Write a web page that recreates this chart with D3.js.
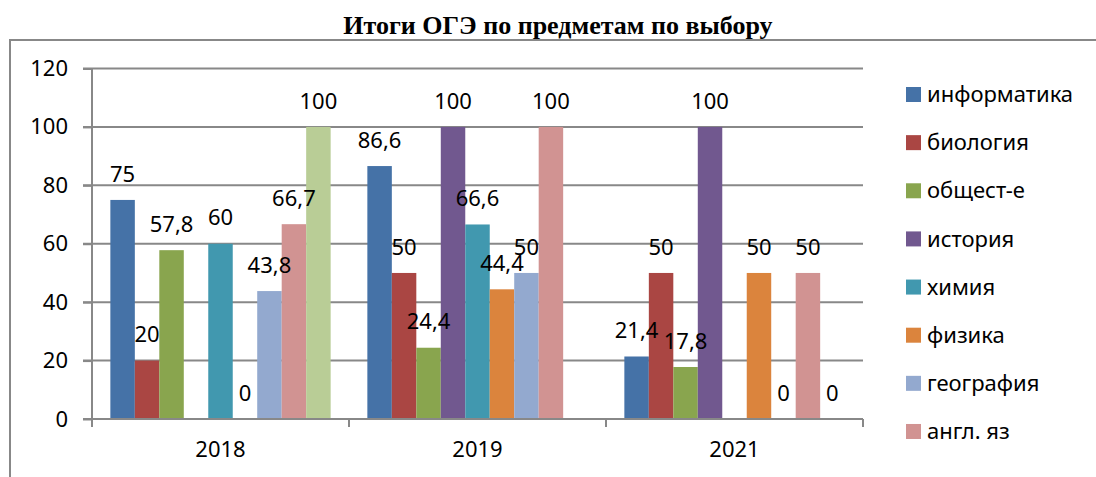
<!DOCTYPE html>
<html><head><meta charset="utf-8">
<script src="https://cdn.jsdelivr.net/npm/d3@7"></script>
<style>body{margin:0;background:#fff}svg{display:block}</style>
</head><body>
<script>
const categories = ["2018", "2019", "2021"];
const seriesNames = ["информатика", "биология", "общест-е", "история", "химия", "физика", "география", "англ. яз", ""];
const informatika = [75, 86.6, 21.4];
const biologiya = [20, 50, 50];
const obshchestvo = [57.8, 24.4, 17.8];
const istoriya = [null, 100, 100];
const khimiya = [60, 66.6, null];
const fizika = [0, 44.4, 50];
const geografiya = [43.8, 50, 0];
const anglYaz = [66.7, 100, 50];
const series9 = [100, null, 0];
const yTicks = [0, 20, 40, 60, 80, 100, 120];
const colors = ["#4572A7", "#AA4643", "#89A54E", "#71588F", "#4198AF", "#DB843D", "#93A9CF", "#D19392", "#B9CD96"];
const title = "Итоги ОГЭ по предметам по выбору";
const legendCount = 8;

const seriesValues = [informatika, biologiya, obshchestvo, istoriya, khimiya, fizika, geografiya, anglYaz, series9];

const W = 1096, H = 477;
const font = "Noto Sans, Open Sans, sans-serif";
const fs = 22;
const svg = d3.select("body").append("svg").attr("width", W).attr("height", H);

// frame
svg.append("path").attr("d", `M10,${H} L10,40 L${W},40`).attr("fill", "none").attr("stroke", "#888").attr("stroke-width", 2);

svg.append("text").attr("x", 558).attr("y", 34).attr("text-anchor", "middle")
  .attr("font-family", "Liberation Serif, Times New Roman, serif").attr("font-weight", "bold")
  .attr("font-size", 26).attr("fill", "#000").text(title);

const x0 = d3.scaleBand().domain(categories).range([92, 863]);
const x1 = d3.scaleBand().domain(d3.range(seriesNames.length)).range([0, x0.bandwidth()]).paddingInner(0).paddingOuter(0.75);
const y = d3.scaleLinear().domain([0, 120]).range([419, 68.5]);

// gridlines
svg.append("g").selectAll("line").data(yTicks.filter(d => d > 0)).join("line")
  .attr("x1", 83).attr("x2", 863).attr("y1", d => y(d)).attr("y2", d => y(d))
  .attr("stroke", "#888").attr("stroke-width", 2);

// bars
const groups = svg.append("g").selectAll("g").data(categories).join("g")
  .attr("transform", c => `translate(${x0(c)},0)`);
groups.each(function(c, ci) {
  const g = d3.select(this);
  const items = seriesValues.map((vals, si) => ({si, v: vals[ci]})).filter(d => d.v !== null);
  g.selectAll("rect").data(items).join("rect")
    .attr("x", d => x1(d.si)).attr("width", x1.bandwidth())
    .attr("y", d => y(d.v)).attr("height", d => y(0) - y(d.v))
    .attr("fill", d => colors[d.si]);
  g.selectAll("text").data(items).join("text")
    .attr("x", d => x1(d.si) + x1.bandwidth() / 2)
    .attr("y", d => y(d.v) - 26)
    .attr("dy", "0.35em")
    .attr("text-anchor", "middle").attr("font-family", font).attr("font-size", fs).attr("fill", "#000")
    .text(d => String(d.v).replace(".", ","));
});

// y axis
const yAxis = svg.append("g").attr("transform", "translate(92,0)")
  .call(d3.axisLeft(y).tickValues(yTicks).tickSize(9).tickPadding(15));
yAxis.select(".domain").attr("stroke", "#888").attr("stroke-width", 2).attr("d", `M0,${y(120)}V${y(0)}`);
yAxis.selectAll(".tick line").attr("stroke", "#888").attr("stroke-width", 2);
yAxis.selectAll(".tick text").attr("font-family", font).attr("font-size", fs).attr("fill", "#000");

// x axis
const xAxis = svg.append("g").attr("transform", `translate(0,${y(0)})`)
  .call(d3.axisBottom(x0).tickSize(0).tickPadding(22));
xAxis.select(".domain").attr("stroke", "#888").attr("stroke-width", 2).attr("d", `M83,0H863`);
xAxis.selectAll(".tick text").attr("font-family", font).attr("font-size", fs).attr("fill", "#000");
const bounds = categories.map(c => x0(c)).concat([x0(categories[categories.length - 1]) + x0.bandwidth()]);
xAxis.append("g").selectAll("line").data(bounds).join("line")
  .attr("x1", d => d).attr("x2", d => d).attr("y1", 0).attr("y2", 8)
  .attr("stroke", "#888").attr("stroke-width", 2);

// legend
const legend = svg.append("g").selectAll("g").data(seriesNames.slice(0, legendCount)).join("g")
  .attr("transform", (d, i) => `translate(906,${87 + i * 48.14})`);
legend.append("rect").attr("width", 15).attr("height", 15).attr("fill", (d, i) => colors[i]);
legend.append("text").attr("x", 21).attr("y", 7.5).attr("dy", "0.35em")
  .attr("font-family", font).attr("font-size", fs).attr("fill", "#000").text(d => d);
</script>
</body></html>
